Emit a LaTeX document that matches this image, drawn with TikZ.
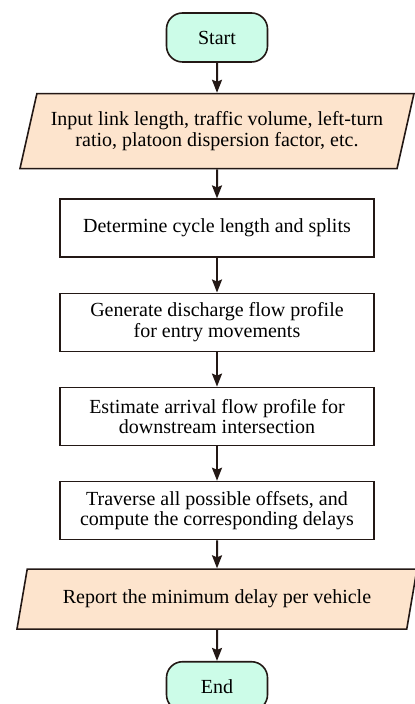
\documentclass[tikz,border=0pt]{standalone}
\usepackage{fontspec}
\setmainfont{Liberation Serif}
\usetikzlibrary{positioning,arrows.meta,shapes.geometric}
\definecolor{menta}{HTML}{CCFCE8}
\definecolor{durazno}{HTML}{FDE4CD}
\definecolor{trazo}{HTML}{231815}

\begin{document}
\begin{tikzpicture}[
      inicio/.style={rounded corners=8pt,draw=trazo,fill=menta,line width=0.8pt,
                   minimum width=50.5pt,minimum height=24.5pt,font=\fontsize{10}{10.2}\selectfont},
      datos/.style={trapezium,trapezium left angle=72,trapezium right angle=108,
                   trapezium stretches body=true,
                   draw=trazo,fill=durazno,line width=0.8pt,
                   align=center,font=\fontsize{10}{10.2}\selectfont},
      paso/.style={draw=trazo,line width=0.8pt,minimum width=157pt,minimum height=29pt,
                   align=center,font=\fontsize{10}{10.2}\selectfont},
      flecha/.style={-{Stealth[length=6.5pt,width=5pt,inset=1pt]},line width=1pt,trazo},
      node distance=17.25pt]
    \useasboundingbox (0,0) rectangle (207pt,-352pt);
    \node[inicio] (start) at (108.5pt,-18.75pt) {Start};
    \node[datos,minimum width=197pt,minimum height=37.5pt,below=15pt of start] (input) {Input link length, traffic volume, left-turn\\ratio, platoon dispersion factor, etc.};
    \node[paso,below=14.5pt of input] (ciclo) {Determine cycle length and splits};
    \node[paso,below=of ciclo] (descarga) {Generate discharge flow profile\\for entry movements};
    \node[paso,below=of descarga] (llegada) {Estimate arrival flow profile for\\downstream intersection};
    \node[paso,below=of llegada] (desfase) {Traverse all possible offsets, and\\compute the corresponding delays};
    \node[datos,minimum width=200pt,minimum height=30pt,below=14pt of desfase] (reporte) {Report the minimum delay per vehicle};
    \node[inicio,below=15.5pt of reporte] (fin) {End};
    \draw[flecha] (start) -- (input);
    \draw[flecha] (input) -- (ciclo);
    \draw[flecha] (ciclo) -- (descarga);
    \draw[flecha] (descarga) -- (llegada);
    \draw[flecha] (llegada) -- (desfase);
    \draw[flecha] (desfase) -- (reporte);
    \draw[flecha] (reporte) -- (fin);
  \end{tikzpicture}
\end{document}
